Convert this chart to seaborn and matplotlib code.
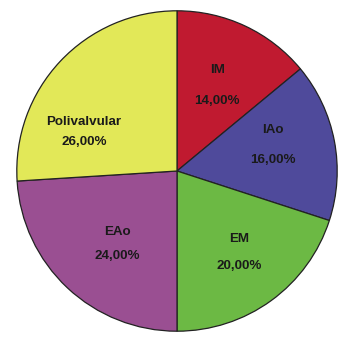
import numpy as np
import matplotlib
matplotlib.use("Agg")
import matplotlib.pyplot as plt
import seaborn as sns

categories = ["IM", "IAo", "EM", "EAo", "Polivalvular"]
values = [14.0, 16.0, 20.0, 24.0, 26.0]
pct_labels = ["14,00%", "16,00%", "20,00%", "24,00%", "26,00%"]
colors = ["#c01a30", "#4f4a9b", "#6cb944", "#9a4f92", "#e2e858"]

# label layout tweaks (radius, angular shift in degrees, half line gap)
label_radius = [0.59, 0.62, 0.64, 0.59, 0.63]
label_shift = [0.0, 4.2, 1.0, 4.0, 20.5]
label_gap = [0.095, 0.093, 0.085, 0.075, 0.065]

sns.set_theme(style="white")
plt.rcParams['font.family'] = ['Liberation Sans', 'DejaVu Sans']

fig = plt.figure(figsize=(3.55, 3.46), dpi=100)
ax = fig.add_axes([16 / 355, 14 / 346, 322 / 355, 322 / 346])

wedges, _ = ax.pie(values, colors=colors, startangle=90, counterclock=False,
                   radius=1.0,
                   wedgeprops=dict(edgecolor="#222222", linewidth=0.9))

for w, name, pct, r, sh, g in zip(wedges, categories, pct_labels,
                                  label_radius, label_shift, label_gap):
    ang = np.deg2rad((w.theta1 + w.theta2) / 2 + sh)
    x, y = r * np.cos(ang), r * np.sin(ang)
    ax.text(x, y + g, name, ha="center", va="center", fontsize=9.6,
            fontweight="bold", color="#1a1a1a")
    ax.text(x, y - g, pct, ha="center", va="center", fontsize=9.6,
            fontweight="bold", color="#1a1a1a")

ax.set_xlim(-1.005, 1.005)
ax.set_ylim(-1.005, 1.005)
ax.set_aspect("equal")
ax.axis("off")

fig.savefig("out.png", dpi=100, facecolor="white")
